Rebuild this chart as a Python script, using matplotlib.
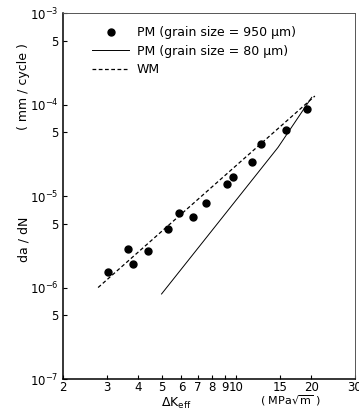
import matplotlib
matplotlib.use("Agg")
import matplotlib.pyplot as plt
from matplotlib.ticker import FixedLocator, NullFormatter

# PM (grain size = 950 um) measured points
dk_950 = [3.05, 3.67, 3.83, 4.41, 5.30, 5.85, 6.66, 7.55, 9.15, 9.65, 11.5, 12.6, 15.8, 19.3]
dadn_950 = [1.48e-6, 2.64e-6, 1.81e-6, 2.5e-6, 4.36e-6, 6.5e-6, 5.9e-6, 8.4e-6,
            1.35e-5, 1.61e-5, 2.35e-5, 3.7e-5, 5.26e-5, 8.9e-5]

# PM (grain size = 80 um) curve
dk_80 = [4.99, 14.7, 20.1]
dadn_80 = [8.5e-7, 3.4e-5, 1.2e-4]

# WM curve
dk_wm = [2.77, 20.7]
dadn_wm = [1.0e-6, 1.24e-4]

xticks = [2, 3, 4, 5, 6, 7, 8, 9, 10, 15, 20, 30]
yticks = [1e-7, 5e-7, 1e-6, 5e-6, 1e-5, 5e-5, 1e-4, 5e-4, 1e-3]
ylabels = ['$10^{-7}$', '5', '$10^{-6}$', '5', '$10^{-5}$', '5', '$10^{-4}$', '5', '$10^{-3}$']

fig = plt.figure(figsize=(3.59, 4.13), dpi=100)
ax = fig.add_axes([0.1755, 0.0823, 0.813, 0.886])

ax.plot(dk_950, dadn_950, 'o', color='black', markersize=5, label='PM (grain size = 950 μm)')
ax.plot(dk_80, dadn_80, '-', color='black', linewidth=0.7, label='PM (grain size = 80 μm)')
ax.plot(dk_wm, dadn_wm, color='black', linewidth=0.9, linestyle=(0, (3, 2)), label='WM')

ax.set_xscale('log')
ax.set_yscale('log')
ax.set_xlim(2, 30)
ax.set_ylim(1e-7, 1e-3)

ax.xaxis.set_major_locator(FixedLocator(xticks))
ax.xaxis.set_minor_locator(FixedLocator([]))
ax.set_xticklabels([str(t) for t in xticks])
ax.yaxis.set_major_locator(FixedLocator(yticks))
ax.yaxis.set_minor_locator(FixedLocator([]))
ax.yaxis.set_minor_formatter(NullFormatter())
ax.set_yticklabels(ylabels)

ax.tick_params(direction='in', length=3, width=0.8, labelsize=8.5, pad=3)
ax.tick_params(axis='x', pad=1.5)

for s in ['left', 'bottom']:
    ax.spines[s].set_linewidth(1.1)
for s in ['top', 'right']:
    ax.spines[s].set_linewidth(0.7)
    ax.spines[s].set_color('#555555')

ax.legend(loc='upper left', bbox_to_anchor=(0.06, 0.995), frameon=False, fontsize=9,
          handlelength=3.0, handletextpad=0.6, labelspacing=0.45)

fig.text(0.066, 0.42, 'da / dN', rotation=90, ha='center', va='center', fontsize=9)
fig.text(0.066, 0.79, '( mm / cycle )', rotation=90, ha='center', va='center', fontsize=9)
fig.text(0.49, 0.022, r'$\Delta$K$_{\rm eff}$', ha='center', va='center', fontsize=9)
fig.text(0.81, 0.031, r'( MPa$\sqrt{\rm m}$ )', ha='center', va='center', fontsize=8)

fig.savefig('out.png', dpi=100)
